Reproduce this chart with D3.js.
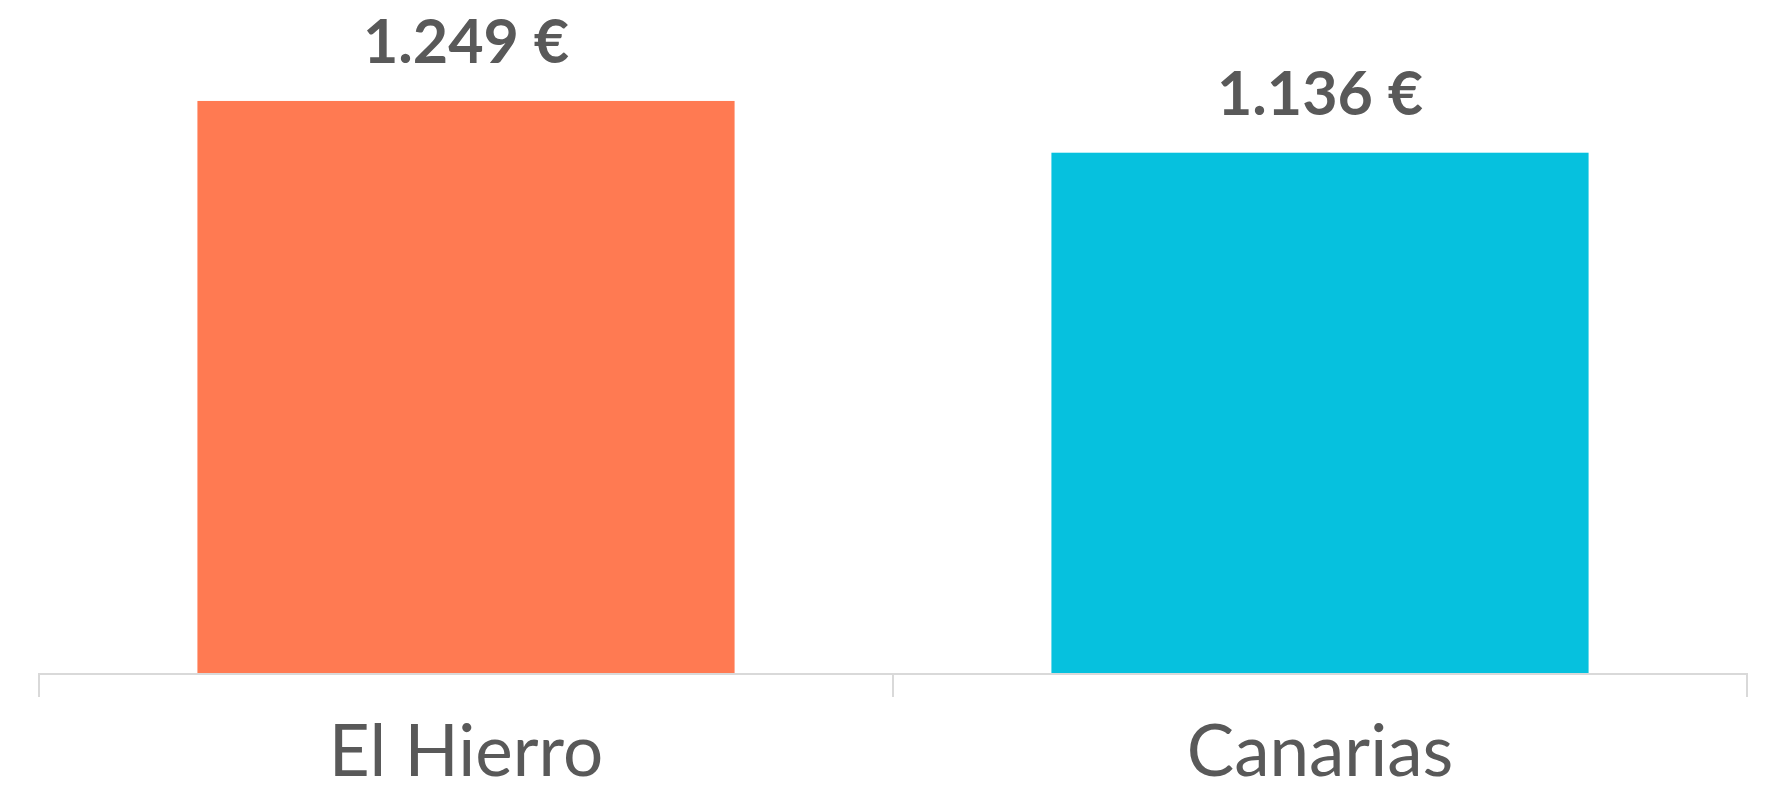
<!DOCTYPE html>
<html>
<head>
<meta charset="utf-8">
<script src="https://cdn.jsdelivr.net/npm/d3@7"></script>
<style>
  html, body { margin: 0; padding: 0; background: #ffffff; overflow: hidden; }
  svg { display: block; }
</style>
</head>
<body>
<svg id="chart" width="1767" height="787"></svg>
<script>
const categories = ["El Hierro", "Canarias"];
const values = [1249, 1136];
const valueLabels = ["1.249 €", "1.136 €"];
const colors = ["#FF7A52", "#06C1DE"];

const W = 1767, H = 787;
const svg = d3.select("#chart");

const x = d3.scaleBand()
  .domain(categories)
  .range([39, 1747])
  .paddingInner(0.371)
  .paddingOuter(0.1855);

const y = d3.scaleLinear()
  .domain([0, 1400])
  .range([673, 31.8]);

const g = svg.append("g");

// bars
g.selectAll("rect.bar")
  .data(categories)
  .enter().append("rect")
  .attr("class", "bar")
  .attr("x", d => x(d))
  .attr("y", (d, i) => y(values[i]))
  .attr("width", x.bandwidth())
  .attr("height", (d, i) => y(0) - y(values[i]))
  .attr("fill", (d, i) => colors[i]);

// value labels
g.selectAll("text.val")
  .data(categories)
  .enter().append("text")
  .attr("class", "val")
  .attr("x", d => x(d) + x.bandwidth() / 2)
  .attr("y", (d, i) => y(values[i]) - 38)
  .attr("text-anchor", "middle")
  .attr("font-family", "Lato, 'Open Sans', sans-serif")
  .attr("font-weight", "bold")
  .attr("font-size", 61)
  .attr("fill", "#595959")
  .text((d, i) => valueLabels[i]);

// axis: baseline + boundary ticks
const step = x.step();
const boundaries = [x.range()[0]].concat(categories.map(c => x(c) - x.paddingOuter() * step + step));
const axisG = g.append("g").attr("class", "axis");
axisG.append("line")
  .attr("x1", x.range()[0]).attr("x2", x.range()[1])
  .attr("y1", y(0) + 1).attr("y2", y(0) + 1)
  .attr("stroke", "#D9D9D9").attr("stroke-width", 2);
axisG.selectAll("line.tick")
  .data(boundaries)
  .enter().append("line")
  .attr("class", "tick")
  .attr("x1", d => d).attr("x2", d => d)
  .attr("y1", y(0)).attr("y2", y(0) + 24)
  .attr("stroke", "#D9D9D9").attr("stroke-width", 2);

// category labels
axisG.selectAll("text.cat")
  .data(categories)
  .enter().append("text")
  .attr("class", "cat")
  .attr("x", d => x(d) + x.bandwidth() / 2)
  .attr("y", 776)
  .attr("text-anchor", "middle")
  .attr("font-family", "Lato, 'Open Sans', sans-serif")
  .attr("font-size", 71)
  .attr("fill", "#595959")
  .text(d => d);
</script>
</body>
</html>
